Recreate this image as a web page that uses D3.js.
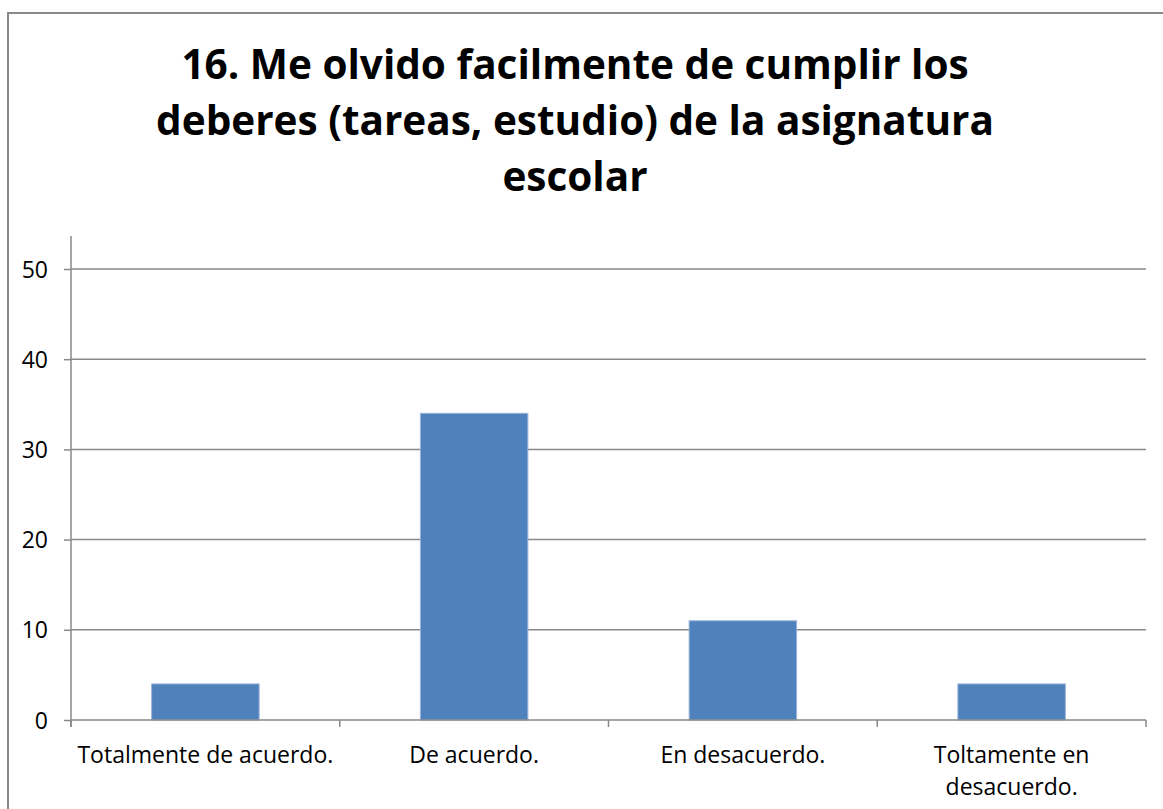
<!DOCTYPE html>
<html>
<head>
<meta charset="utf-8">
<script src="https://cdn.jsdelivr.net/npm/d3@7"></script>
<style>
  body { margin: 0; background: #fff; }
  svg { display: block; }
  text { font-family: "Open Sans", "Noto Sans", sans-serif; fill: #000; }
</style>
</head>
<body>
<div id="chart"></div>
<script>
// chart data
var titleLines = ["16. Me olvido facilmente de cumplir los", "deberes (tareas, estudio) de la asignatura", "escolar"];
var categories = ["Totalmente de acuerdo.", "De acuerdo.", "En desacuerdo.", "Toltamente en desacuerdo."];
var values = [4, 34, 11, 4];
var yTicks = [0, 10, 20, 30, 40, 50];

var W = 1163, H = 809;
var margin = {top: 269, left: 71, right: 17, bottom: 89};
var width = W - margin.left - margin.right, height = H - margin.top - margin.bottom;
var gray = "#898989";

var svg = d3.select("#chart").append("svg")
    .attr("width", W)
    .attr("height", H);

// outer border (runs off the right and bottom edge)
svg.append("rect")
    .attr("x", 8).attr("y", 13)
    .attr("width", W + 20).attr("height", H + 20)
    .attr("fill", "none")
    .attr("stroke", gray)
    .attr("stroke-width", 2);

// title
svg.append("g").selectAll("text")
    .data(titleLines)
    .enter().append("text")
    .attr("x", 575)
    .attr("y", function(d, i){ return 79 + i * 56; })
    .attr("text-anchor", "middle")
    .style("font-weight", "bold")
    .style("font-size", "40.5px")
    .text(function(d){ return d; });

var g = svg.append("g")
    .attr("transform", "translate(" + margin.left + "," + margin.top + ")");

var x = d3.scaleBand().domain(categories).range([0, width]).paddingInner(0.6).paddingOuter(0.3);
var xo = d3.scaleBand().domain(categories).range([0, width]);
var y = d3.scaleLinear().domain([0, 50]).range([height, 0]);

// gridlines
g.append("g").selectAll("line")
    .data(yTicks.slice(1))
    .enter().append("line")
    .attr("x1", 0).attr("x2", width)
    .attr("y1", function(d){ return y(d); })
    .attr("y2", function(d){ return y(d); })
    .attr("stroke", gray)
    .attr("stroke-width", 1.5);

// bars
g.append("g").selectAll("rect")
    .data(values)
    .enter().append("rect")
    .attr("x", function(d, i){ return x(categories[i]); })
    .attr("y", function(d){ return y(d); })
    .attr("width", x.bandwidth())
    .attr("height", function(d){ return height - y(d); })
    .attr("fill", "#4f81bd")
    .attr("stroke", "#9bb5d8")
    .attr("stroke-width", 1);

// y axis
var yAxis = d3.axisLeft(y).tickValues(yTicks).tickSize(7).tickPadding(16).tickSizeOuter(0);
var ya = g.append("g").call(yAxis);
ya.select(".domain").attr("stroke", gray).attr("stroke-width", 1.5).attr("d", "M0,-33V" + (height + 7));
ya.selectAll(".tick line").attr("stroke", gray).attr("stroke-width", 1.5);
ya.selectAll(".tick text").style("font-size", "23px").style("font-family", "'Open Sans', sans-serif").attr("dy", "0.35em");

// x axis with category separators
var xa = g.append("g").attr("transform", "translate(0," + height + ")");
xa.append("line")
    .attr("x1", 0).attr("x2", width)
    .attr("stroke", gray).attr("stroke-width", 1.5);
xa.selectAll(".sep")
    .data(d3.range(categories.length + 1))
    .enter().append("line")
    .attr("class", "sep")
    .attr("x1", function(i){ return i * xo.bandwidth(); })
    .attr("x2", function(i){ return i * xo.bandwidth(); })
    .attr("y1", 0).attr("y2", 7)
    .attr("stroke", gray).attr("stroke-width", 1.5);

// category labels, wrapped if too wide
var maxW = xo.bandwidth() - 6;
xa.selectAll(".lab")
    .data(categories)
    .enter().append("text")
    .attr("class", "lab")
    .attr("text-anchor", "middle")
    .attr("x", function(d){ return xo(d) + xo.bandwidth() / 2; })
    .attr("y", 43)
    .style("font-size", "23px")
    .each(function(d){
      var t = d3.select(this);
      t.text(d);
      if (this.getComputedTextLength() > maxW) {
        var words = d.split(" ");
        var last = words.pop();
        t.text(null);
        t.append("tspan").attr("x", t.attr("x")).text(words.join(" "));
        t.append("tspan").attr("x", t.attr("x")).attr("dy", 32).text(last);
      }
    });
</script>
</body>
</html>
